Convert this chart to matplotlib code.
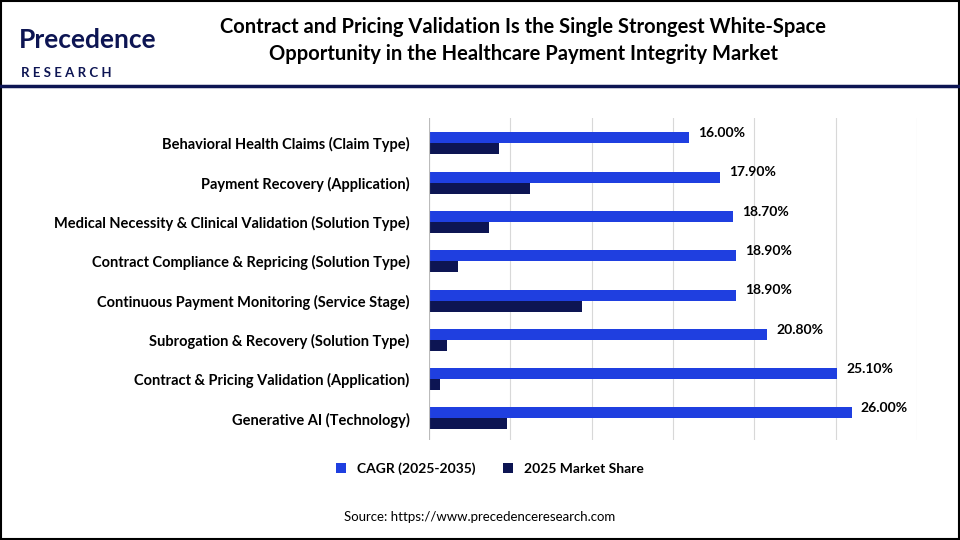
import matplotlib.pyplot as plt
import numpy as np

categories = [
    "Behavioral Health Claims (Claim Type)",
    "Payment Recovery (Application)",
    "Medical Necessity & Clinical Validation (Solution Type)",
    "Contract Compliance & Repricing (Solution Type)",
    "Continuous Payment Monitoring (Service Stage)",
    "Subrogation & Recovery (Solution Type)",
    "Contract & Pricing Validation (Application)",
    "Generative AI (Technology)",
]
cagr = [16.0, 17.9, 18.7, 18.9, 18.9, 20.8, 25.1, 26.0]
share = [4.3, 6.2, 3.7, 1.8, 9.4, 1.1, 0.7, 4.8]

BLUE = "#1f3fe0"
NAVY = "#0d1553"

plt.rcParams["font.family"] = ["Lato", "DejaVu Sans"]

fig = plt.figure(figsize=(9.6, 5.4), dpi=100)
fig.patch.set_facecolor("white")

# frame and header line
fig.add_artist(plt.Rectangle((0.001, 0.001), 0.998, 0.998, transform=fig.transFigure,
                             fill=False, edgecolor="black", lw=1.5))
fig.add_artist(plt.Line2D([0, 1], [0.84, 0.84], transform=fig.transFigure, color=NAVY, lw=2.5))

fig.text(0.02, 0.925, "Precedence", fontsize=19, color=NAVY, fontweight="bold", va="center")
fig.text(0.022, 0.865, "R E S E A R C H", fontsize=9.5, color=NAVY, fontweight="bold", va="center")
fig.text(0.545, 0.925, "Contract and Pricing Validation Is the Single Strongest White-Space\n"
         "Opportunity in the Healthcare Payment Integrity Market",
         ha="center", va="center", fontsize=14.5, fontweight="bold", linespacing=1.45)

ax = fig.add_axes([0.447, 0.185, 0.508, 0.597])
y = np.arange(len(categories))
h = 0.28
ax.barh(y - h / 2, cagr, height=h, color=BLUE, label="CAGR (2025-2035)")
ax.barh(y + h / 2, share, height=h, color=NAVY, label="2025 Market Share")
for yi, v in zip(y, cagr):
    ax.text(v + 0.55, yi - h / 2 - 0.12, f"{v:.2f}%", va="center", fontsize=10, fontweight="bold")

ax.set_xlim(0, 30)
ax.set_ylim(len(categories) - 0.45, -0.65)
ax.set_yticks(y)
ax.set_yticklabels(categories, fontsize=10.5, fontweight="bold")
ax.set_xticks(np.arange(0, 31, 5))
ax.set_xticklabels([])
ax.tick_params(length=0, pad=14)
ax.grid(axis="x", color="#d8d8d8", lw=0.8)
ax.set_axisbelow(True)
for s in ax.spines.values():
    s.set_visible(False)
ax.axvline(0, color="#bbbbbb", lw=0.8)

ax.legend(loc="upper center", bbox_to_anchor=(0.125, -0.03), ncol=2, frameon=False,
          handlelength=0.7, handleheight=0.7, prop={"weight": "bold", "size": 10})

fig.text(0.5, 0.035, "Source: https://www.precedenceresearch.com", ha="center", fontsize=9.5)

fig.savefig("out.png", dpi=100)
